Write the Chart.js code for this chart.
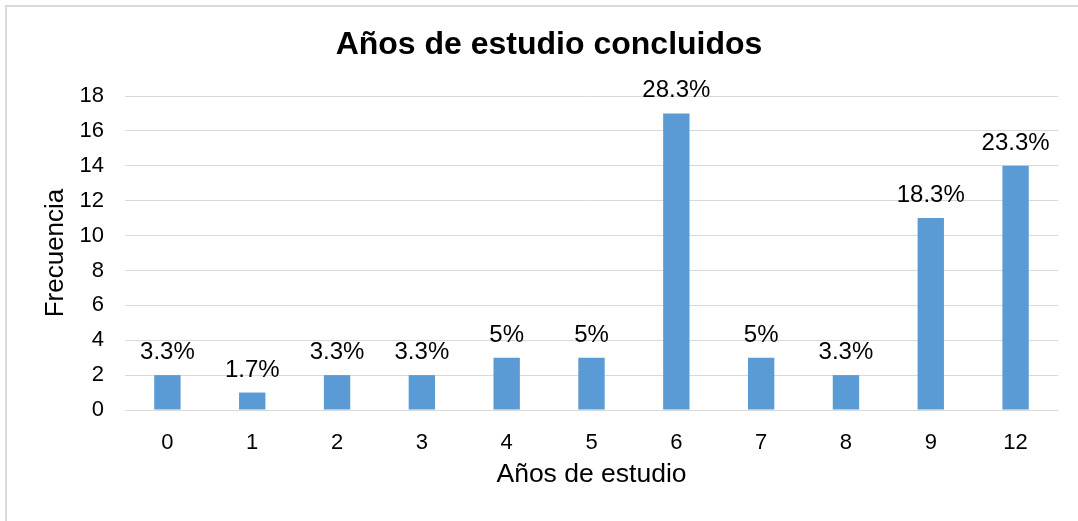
<!DOCTYPE html>
<html>
<head>
<meta charset="utf-8">
<script src="https://cdn.jsdelivr.net/npm/chart.js@4"></script>
<style>
  html, body { margin: 0; padding: 0; background: #fff; }
  #wrap { width: 1078px; height: 521px; position: relative; }
</style>
</head>
<body>
<div id="wrap"><canvas id="c" width="1078" height="521"></canvas></div>
<script>
const categories = ['0', '1', '2', '3', '4', '5', '6', '7', '8', '9', '12'];
const frequencies = [2, 1, 2, 2, 3, 3, 17, 3, 2, 11, 14];
const percentLabels = ['3.3%', '1.7%', '3.3%', '3.3%', '5%', '5%', '28.3%', '5%', '3.3%', '18.3%', '23.3%'];
const chartTitle = 'Años de estudio concluidos';
const xTitle = 'Años de estudio';
const yTitle = 'Frecuencia';

const FONT = '"Liberation Sans", Arial, sans-serif';

const frameBorder = {
  id: 'frameBorder',
  beforeDraw(chart) {
    const ctx = chart.ctx;
    ctx.save();
    ctx.strokeStyle = '#d9d9d9';
    ctx.lineWidth = 2;
    ctx.beginPath();
    ctx.moveTo(6, 521);
    ctx.lineTo(6, 6);
    ctx.lineTo(1078, 6);
    ctx.stroke();
    ctx.restore();
  }
};

const barLabels = {
  id: 'barLabels',
  afterDatasetsDraw(chart) {
    const ctx = chart.ctx;
    const meta = chart.getDatasetMeta(0);
    ctx.save();
    ctx.font = '24px ' + FONT;
    ctx.fillStyle = '#000';
    ctx.textAlign = 'center';
    ctx.textBaseline = 'alphabetic';
    meta.data.forEach((bar, i) => {
      ctx.fillText(percentLabels[i], bar.x, bar.y - 16);
    });
    ctx.restore();
  }
};

new Chart(document.getElementById('c'), {
  type: 'bar',
  data: {
    labels: categories,
    datasets: [{
      data: frequencies,
      backgroundColor: '#5B9BD5',
      borderWidth: 0,
      categoryPercentage: 1,
      barPercentage: 0.311
    }]
  },
  options: {
    responsive: false,
    animation: false,
    layout: { padding: { top: 0, left: 40, right: 20, bottom: 0 } },
    plugins: {
      legend: { display: false },
      tooltip: { enabled: false },
      title: {
        display: true,
        text: chartTitle,
        color: '#000',
        font: { family: FONT, size: 32, weight: 'bold', lineHeight: 1.2 },
        padding: { top: 26, bottom: 31.6 }
      }
    },
    scales: {
      x: {
        grid: { display: false, drawTicks: false },
        border: { display: false },
        ticks: { color: '#000', font: { family: FONT, size: 22 }, padding: 20 },
        title: {
          display: true,
          text: xTitle,
          color: '#000',
          font: { family: FONT, size: 26.5, lineHeight: 1.2 },
          padding: { top: 0, bottom: 30 }
        },
        afterFit(scale) { scale.height = 111; }
      },
      y: {
        min: 0,
        max: 18,
        grid: { color: '#d9d9d9', lineWidth: 1, drawTicks: false },
        border: { display: false },
        ticks: { stepSize: 2, color: '#000', font: { family: FONT, size: 22 }, padding: 21 },
        title: {
          display: true,
          text: yTitle,
          color: '#000',
          font: { family: FONT, size: 26, lineHeight: 1.2 },
          padding: { top: 0, bottom: 0 }
        },
        afterFit(scale) { scale.width = 85; }
      }
    }
  },
  plugins: [frameBorder, barLabels]
});
</script>
</body>
</html>
